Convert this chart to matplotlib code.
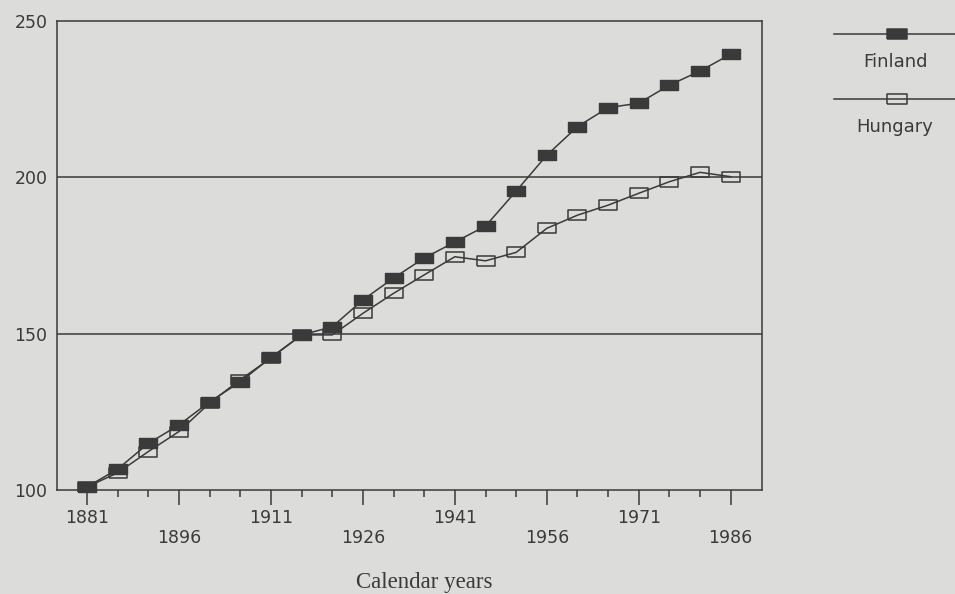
import matplotlib
matplotlib.use("Agg")
import matplotlib.pyplot as plt
from matplotlib.lines import Line2D

# index values, 1881 = 100
years = [1881, 1886, 1891, 1896, 1901, 1906, 1911, 1916, 1921, 1926, 1931,
         1936, 1941, 1946, 1951, 1956, 1961, 1966, 1971, 1976, 1981, 1986]
finland = [101, 106.7, 114.9, 120.8, 128.2, 134.6, 142.4, 149.6, 152.2, 160.8, 167.8,
           174.2, 179.3, 184.4, 195.6, 207.1, 216.2, 222.3, 223.7, 229.5, 234.0, 239.4]
hungary = [101, 105.5, 112.3, 118.7, 127.8, 135.3, 142.2, 149.6, 149.6, 156.5, 162.9,
           168.8, 174.6, 173.3, 176.0, 183.7, 187.9, 191.1, 194.9, 198.6, 201.6, 200.2]
major_years = [1881, 1896, 1911, 1926, 1941, 1956, 1971, 1986]
minor_years = [y for y in years if y not in major_years]
y_ticks = [100, 150, 200, 250]

BG = "#dcdcda"
INK = "#3a3a3a"
W, H = 955, 594

plt.rcParams["font.family"] = ["DejaVu Sans"]
fig = plt.figure(figsize=(W / 100, H / 100), dpi=100, facecolor=BG)
ax = fig.add_axes([57 / W, 1 - 490 / H, (762 - 57) / W, (490 - 21) / H])
ax.set_facecolor(BG)

rect = [(-0.9, -0.5), (0.9, -0.5), (0.9, 0.5), (-0.9, 0.5), (-0.9, -0.5)]
ax.plot(years, hungary, color=INK, lw=1.1, marker=rect, ms=13.5,
        mfc="none", mec=INK, mew=1.1, clip_on=False, zorder=3)
ax.plot(years, finland, color=INK, lw=1.1, marker=rect, ms=13.5,
        mfc=INK, mec=INK, mew=1.0, clip_on=False, zorder=4)

for v in (150, 200):
    ax.axhline(v, color=INK, lw=1.1, zorder=1)

ax.set_xlim(1876.1, 1991.1)
ax.set_ylim(100, 250)
for s in ax.spines.values():
    s.set_color(INK)
    s.set_linewidth(1.1)

ax.set_xticks(major_years)
ax.set_xticklabels([str(y) for y in major_years])
ax.set_xticks(minor_years, minor=True)
ax.tick_params(axis="x", which="major", direction="out", length=10.5, width=1.1,
               color=INK, labelcolor=INK, labelsize=12.5, pad=3.5)
ax.tick_params(axis="x", which="minor", direction="out", length=5, width=1.1, color=INK)
# every other year label sits on a lower row
for t in ax.xaxis.get_major_ticks()[1::2]:
    t.set_pad(17.5)

ax.set_yticks(y_ticks)
ax.tick_params(axis="y", length=0, pad=7, labelsize=12.5, labelcolor=INK)

ax.set_xlabel("Calendar years", family="Liberation Serif", fontsize=16.5, color=INK)
ax.xaxis.set_label_coords(367 / 705, -0.198)
ax.xaxis.label.set_va("center")

# legend drawn to the right of the frame
def fx(px):
    return px / W

def fy(py):
    return 1 - py / H

for py, fill, name, ty in ((34, INK, "Finland", 62), (99, "none", "Hungary", 127)):
    fig.add_artist(Line2D([fx(834), fx(960)], [fy(py), fy(py)], color=INK, lw=1.1,
                          transform=fig.transFigure))
    fig.add_artist(Line2D([fx(897)], [fy(py)], marker=rect, ms=14, mfc=fill, mec=INK,
                          mew=1.1, lw=0, transform=fig.transFigure))
    fig.text(fx(895), fy(ty), name, ha="center", va="center", fontsize=13, color=INK)

fig.savefig("out.png", dpi=100, facecolor=BG)
